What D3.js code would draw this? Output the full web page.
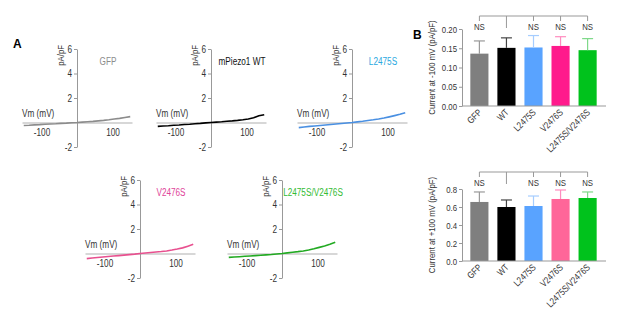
<!DOCTYPE html>
<html>
<head>
<meta charset="utf-8">
<script src="https://cdn.jsdelivr.net/npm/d3@7"></script>
<style>
  body { margin: 0; background: #fff; }
  svg text { font-family: "Liberation Sans", Arial, sans-serif; fill: #333; }
</style>
</head>
<body>
<div id="chart"></div>
<script>
// ---- data ----
// I-V traces, voltage in mV, current in pA/pF
const vm = [-150, -135, -120, -105, -90, -75, -60, -45, -30, -15, 0, 15, 30, 45, 60, 75, 90, 105, 120, 135, 150];
const gfpI = [-0.24, -0.22, -0.19, -0.17, -0.14, -0.12, -0.10, -0.07, -0.05, -0.02, 0, 0.03, 0.06, 0.09, 0.13, 0.17, 0.22, 0.28, 0.34, 0.41, 0.48];
const wtI = [-0.32, -0.28, -0.27, -0.22, -0.20, -0.16, -0.14, -0.10, -0.07, -0.03, 0, 0.03, 0.06, 0.10, 0.13, 0.17, 0.22, 0.28, 0.38, 0.55, 0.64];
const l2475sI = [-0.42, -0.37, -0.32, -0.28, -0.24, -0.20, -0.16, -0.12, -0.08, -0.04, 0, 0.05, 0.10, 0.16, 0.22, 0.29, 0.37, 0.46, 0.56, 0.67, 0.80];
const v2476sI = [-0.42, -0.37, -0.33, -0.29, -0.25, -0.21, -0.17, -0.13, -0.09, -0.05, 0, 0.04, 0.08, 0.12, 0.16, 0.21, 0.28, 0.36, 0.46, 0.60, 0.75];
const doubleI = [-0.32, -0.29, -0.26, -0.23, -0.20, -0.17, -0.14, -0.11, -0.08, -0.04, 0, 0.05, 0.10, 0.15, 0.21, 0.28, 0.38, 0.50, 0.62, 0.76, 0.92];
const ivTitles = ["GFP", "mPiezo1 WT", "L2475S", "V2476S", "L2475S/V2476S"];
const ivYTicks = [6, 4, 2, -2];
const ivXTicks = [-100, 100];

// bar charts, mean and SEM
const groups = ["GFP", "WT", "L2475S", "V2476S", "L2475S/V2476S"];
const negMean = [0.136, 0.151, 0.152, 0.156, 0.145];
const negSem = [0.033, 0.026, 0.031, 0.024, 0.030];
const posMean = [0.656, 0.600, 0.611, 0.689, 0.700];
const posSem = [0.111, 0.078, 0.111, 0.100, 0.067];
const negTicks = [0, 0.05, 0.10, 0.15, 0.20];
const posTicks = [0, 0.2, 0.4, 0.6, 0.8];
const sigLabels = ["NS", "", "NS", "NS", "NS"];

// ---- colours ----
const traceColor = ["#8c8c8c", "#000000", "#4a90e2", "#e8508f", "#22aa22"];
const titleColor = ["#8c8c8c", "#111111", "#2aa8e0", "#e0449a", "#33bb33"];
const negBarColor = ["#7f7f7f", "#000000", "#59a3ff", "#ff1a8c", "#00c21c"];
const posBarColor = ["#7f7f7f", "#000000", "#59a3ff", "#ff6699", "#00c21c"];
const errColor = ["#999999", "#444444", "#a6cdff", "#ff8cbf", "#7fd98a"];

const svg = d3.select("#chart")
    .append("svg")
    .attr("width", 617)
    .attr("height", 316);

// ---- I-V panels ----
const ivSeries = [gfpI, wtI, l2475sI, v2476sI, doubleI];
const ivPanels = [
    { cx: 77, top: 49 },
    { cx: 211, top: 49 },
    { cx: 352, top: 49 },
    { cx: 140, top: 180 },
    { cx: 282, top: 180 }
];

ivPanels.forEach((p, i) => {
    const g = svg.append("g");
    const x = d3.scaleLinear().domain([-155, 155]).range([p.cx - 55, p.cx + 55]);
    const y = d3.scaleLinear().domain([-2, 6]).range([p.top + 98, p.top]);

    // zero line with voltage labels
    const xAxis = g.append("g")
        .attr("transform", `translate(0,${y(0)})`)
        .call(d3.axisBottom(x).tickValues(ivXTicks).tickSize(0).tickSizeOuter(0).tickPadding(6)
            .tickFormat(d => String(d)));
    xAxis.select(".domain").attr("stroke", "#b0b0b0").attr("stroke-width", 1.2);
    xAxis.selectAll("text").style("font-size", "10px");

    const yAxis = g.append("g")
        .attr("transform", `translate(${p.cx},0)`)
        .call(d3.axisLeft(y).tickValues(ivYTicks).tickSize(3).tickSizeOuter(0).tickPadding(2)
            .tickFormat(d => String(d)));
    yAxis.select(".domain").attr("stroke", "#999");
    yAxis.selectAll(".tick line").attr("stroke", "#999");
    yAxis.selectAll("text").style("font-size", "10px");

    g.append("text")
        .attr("transform", `translate(${p.cx - 13},${p.top - 4}) rotate(-90)`)
        .attr("text-anchor", "end")
        .style("font-size", "9.5px")
        .text("pA/pF");

    g.append("text")
        .attr("x", p.cx - 55)
        .attr("y", y(0) - 6)
        .style("font-size", "10px")
        .text("Vm (mV)");

    g.append("text")
        .attr("x", p.cx + 31)
        .attr("y", p.top + 16)
        .attr("text-anchor", "middle")
        .style("font-size", "10px")
        .style("fill", titleColor[i])
        .text(ivTitles[i]);

    const line = d3.line()
        .x((d, k) => x(vm[k]))
        .y(d => y(d));

    g.append("path")
        .datum(ivSeries[i])
        .attr("fill", "none")
        .attr("stroke", traceColor[i])
        .attr("stroke-width", 1.6)
        .attr("d", line);
});

// ---- bar charts ----
function barChart(top, bottom, mean, sem, ticks, fmt, barColor, label, bracketY) {
    const g = svg.append("g");
    const x = d3.scaleBand().domain(groups).range([466, 601])
        .paddingInner(0.33).paddingOuter(0.16);
    const y = d3.scaleLinear().domain([0, d3.max(ticks)]).range([bottom, top]);

    const rows = groups.map((name, i) => ({ name, mean: mean[i], sem: sem[i], i }));

    g.selectAll(".bar")
        .data(rows)
        .join("rect")
        .attr("class", "bar")
        .attr("x", d => x(d.name))
        .attr("width", x.bandwidth())
        .attr("y", d => y(d.mean))
        .attr("height", d => y(0) - y(d.mean))
        .attr("fill", d => barColor[d.i]);

    // upper error bars
    const err = g.selectAll(".err").data(rows).join("g").attr("class", "err")
        .attr("stroke", d => errColor[d.i]).attr("stroke-width", 1.2);
    err.append("line")
        .attr("x1", d => x(d.name) + x.bandwidth() / 2)
        .attr("x2", d => x(d.name) + x.bandwidth() / 2)
        .attr("y1", d => y(d.mean))
        .attr("y2", d => y(d.mean + d.sem));
    err.append("line")
        .attr("x1", d => x(d.name) + x.bandwidth() / 2 - 5.5)
        .attr("x2", d => x(d.name) + x.bandwidth() / 2 + 5.5)
        .attr("y1", d => y(d.mean + d.sem))
        .attr("y2", d => y(d.mean + d.sem));

    // axes
    const yAxis = g.append("g")
        .attr("transform", "translate(462,0)")
        .call(d3.axisLeft(y).tickValues(ticks).tickSize(3).tickSizeOuter(0).tickPadding(2)
            .tickFormat(d3.format(fmt)));
    yAxis.select(".domain").attr("stroke", "#999");
    yAxis.selectAll(".tick line").attr("stroke", "#999");
    yAxis.selectAll("text").style("font-size", "9.5px");

    g.append("line")
        .attr("x1", 462).attr("x2", 606)
        .attr("y1", y(0)).attr("y2", y(0))
        .attr("stroke", "#999");

    g.selectAll(".xlab")
        .data(rows)
        .join("text")
        .attr("class", "xlab")
        .attr("text-anchor", "end")
        .attr("transform", d => `translate(${x(d.name) + x.bandwidth() / 2 + 3},${y(0) + 7}) rotate(-45)`)
        .style("font-size", "9.5px")
        .text(d => d.name);

    g.append("text")
        .attr("transform", `translate(435,${(top + bottom) / 2}) rotate(-90)`)
        .attr("text-anchor", "middle")
        .style("font-size", "9.5px")
        .text(label);

    // significance bracket against WT
    const cx = d => x(d) + x.bandwidth() / 2;
    g.append("line")
        .attr("x1", cx(groups[0])).attr("x2", cx(groups[groups.length - 1]))
        .attr("y1", bracketY).attr("y2", bracketY)
        .attr("stroke", "#999");
    g.selectAll(".drop")
        .data(rows)
        .join("line")
        .attr("class", "drop")
        .attr("x1", d => cx(d.name)).attr("x2", d => cx(d.name))
        .attr("y1", bracketY)
        .attr("y2", d => bracketY + (d.name === "WT" ? 12 : 5))
        .attr("stroke", "#999");
    g.selectAll(".ns")
        .data(rows)
        .join("text")
        .attr("class", "ns")
        .attr("x", d => cx(d.name))
        .attr("y", bracketY + 14)
        .attr("text-anchor", "middle")
        .style("font-size", "9.5px")
        .text(d => sigLabels[d.i]);
}

barChart(29, 106, negMean, negSem, negTicks, ".2f", negBarColor, "Current at -100 mV (pA/pF)", 16);
barChart(189, 261, posMean, posSem, posTicks, ".1f", posBarColor, "Current at +100 mV (pA/pF)", 172);

// the figure uses a condensed face: squeeze every label horizontally
svg.selectAll("text").each(function() {
    const w = this.getComputedTextLength();
    if (w > 0) {
        d3.select(this).attr("textLength", w * 0.82).attr("lengthAdjust", "spacingAndGlyphs");
    }
});

// panel letters
svg.append("text").attr("x", 13).attr("y", 48).text("A")
    .style("font-weight", "bold").style("font-size", "12px").style("fill", "#000");
svg.append("text").attr("x", 413).attr("y", 39).text("B")
    .style("font-weight", "bold").style("font-size", "12px").style("fill", "#000");
</script>
</body>
</html>
